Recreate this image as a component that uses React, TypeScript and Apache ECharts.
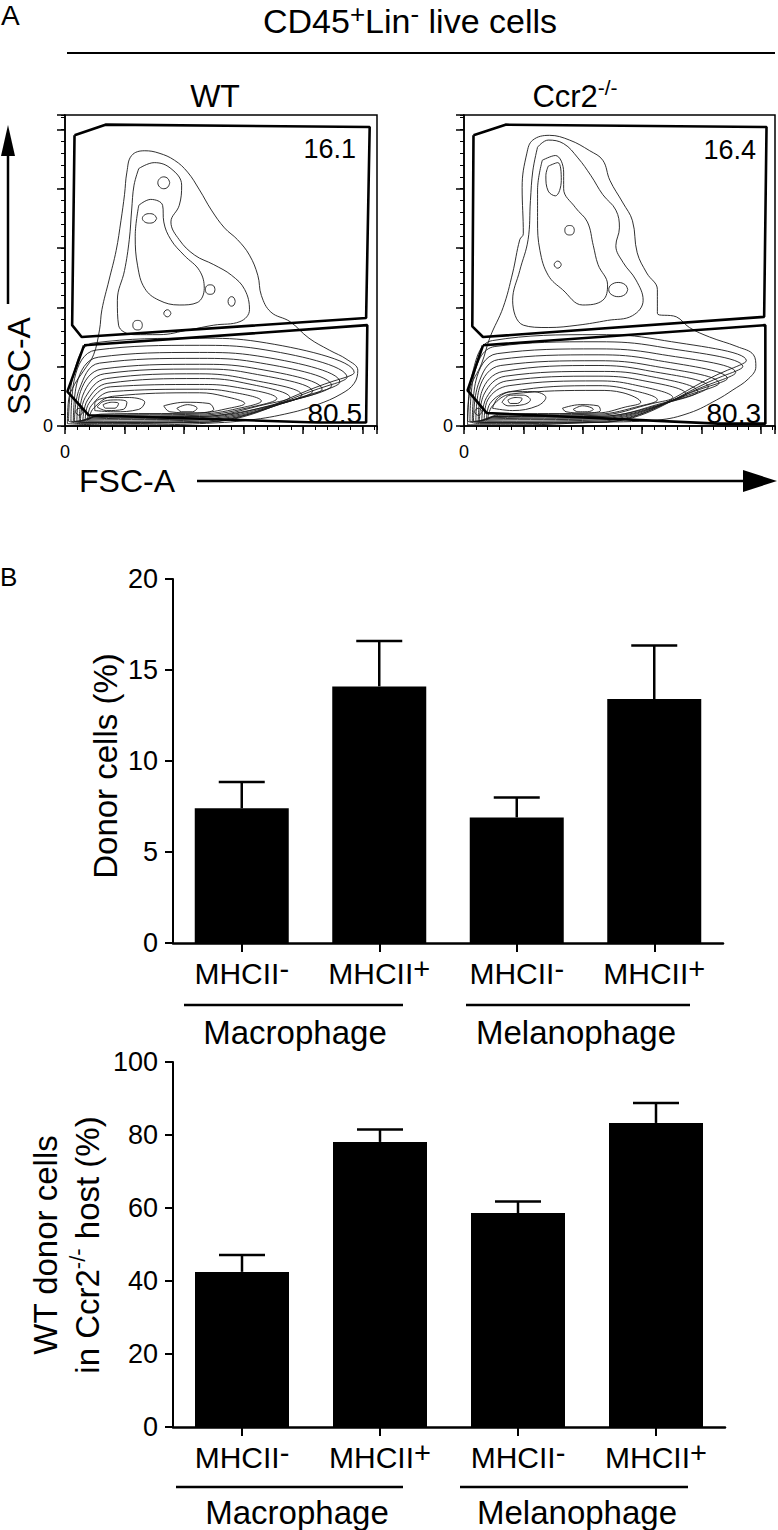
import React, { useEffect, useRef } from "react";
import * as echarts from "echarts";

const FONT = '"Liberation Sans", Arial, Helvetica, sans-serif';

// ---------------- Panel A: FSC-A / SSC-A (thousands of channel units) ----------------
const flowMax = 262.144;
const flowMajorStep = 50;
const flowMinorStep = 10;

const wtUpperGate = [[8, 245], [34, 254], [256, 252], [253, 91], [14, 75], [6, 85], [8, 245]];
const wtLowerGate = [[16, 68], [254, 85], [253, 3], [212, 3], [20, 9], [2, 29], [16, 68]];
const koUpperGate = [[8, 245], [35, 254], [255, 252], [253, 92], [16, 75], [7, 84], [8, 245]];
const koLowerGate = [[16, 68], [254, 85], [254, 2], [214, 2], [19, 11], [3, 30], [16, 68]];

const wtGateFreq = ["16.1", "80.5"];
const koGateFreq = ["16.4", "80.3"];

const wtContours = [
  // outer envelope
  [[2, 2], [3, 22], [8, 35], [16, 47], [24, 60], [29, 81], [31, 98], [37, 123], [43, 148], [47, 173], [50, 195], [52, 214], [56, 228], [67, 232], [79, 230], [92, 224], [103, 214], [113, 199], [123, 182], [134, 167], [145, 157], [155, 144], [162, 127], [165, 110], [173, 96], [189, 88], [205, 74], [222, 64], [237, 56], [246, 47], [243, 36], [232, 27], [212, 18], [189, 11], [155, 5], [113, 2], [71, 1], [29, 1], [2, 2]],
  // upper population
  [[62, 217], [75, 222], [89, 217], [98, 203], [96, 186], [89, 172], [96, 157], [109, 144], [125, 136], [140, 127], [151, 115], [155, 98], [147, 88], [125, 85], [104, 81], [79, 77], [58, 77], [45, 85], [44, 106], [50, 131], [54, 157], [56, 182], [58, 203], [62, 217]],
  [[62, 186], [72, 191], [82, 186], [83, 172], [89, 157], [100, 144], [113, 131], [117, 116], [111, 104], [96, 102], [79, 106], [67, 116], [61, 135], [59, 160], [62, 186]],
  [[88, 205], [86.5, 208.5], [83, 210], [79.5, 208.5], [78, 205], [79.5, 201.5], [83, 200], [86.5, 201.5], [88, 205]],
  [[77, 175], [75, 178], [71, 179], [67, 178], [65, 175], [67, 172], [71, 171], [75, 172], [77, 175]],
  [[89, 95], [88, 97], [86, 98], [84, 97], [83, 95], [84, 93], [86, 92], [88, 93], [89, 95]],
  [[143, 105], [142, 108], [140, 109], [138, 108], [137, 105], [138, 102], [140, 101], [142, 102], [143, 105]],
  [[65, 85], [64, 88], [61, 89], [58, 88], [57, 85], [58, 82], [61, 81], [64, 82], [65, 85]],
  [[126, 115], [125, 118], [122, 119], [119, 118], [118, 115], [119, 112], [122, 111], [125, 112], [126, 115]],
  // lower population (nested levels)
  [[3, 4], [7, 43], [24, 70], [113, 74], [163, 71], [243, 45], [226, 38], [113, 3], [13, 2], [3, 4]],
  [[5, 4], [8, 40], [26, 64], [113, 68], [163, 65], [237, 41], [221, 34], [113, 3], [15, 3], [5, 4]],
  [[7, 4], [10, 36], [28, 58], [113, 62], [162, 59], [231, 37], [214, 29], [113, 4], [17, 3], [7, 4]],
  [[8, 4], [12, 31], [29, 53], [113, 57], [159, 54], [224, 34], [207, 26], [113, 5], [19, 4], [8, 4]],
  [[10, 4], [13, 29], [31, 48], [113, 52], [157, 49], [216, 31], [200, 24], [113, 6], [20, 5], [10, 4]],
  [[12, 4], [15, 26], [33, 44], [113, 48], [153, 45], [208, 29], [191, 22], [113, 7], [22, 6], [12, 4]],
  [[13, 4], [17, 24], [35, 40], [113, 44], [151, 40], [199, 26], [182, 19], [113, 8], [24, 7], [13, 4]],
  [[15, 4], [19, 22], [36, 36], [113, 40], [147, 37], [189, 24], [172, 19], [113, 8], [25, 8], [15, 4]],
  [[17, 5], [20, 19], [38, 33], [113, 35], [142, 33], [178, 23], [161, 17], [113, 9], [27, 8], [17, 5]],
  [[19, 5], [22, 17], [39, 29], [113, 31], [138, 29], [165, 21], [151, 16], [113, 10], [29, 9], [19, 5]],
  [[20, 6], [24, 15], [40, 25], [113, 28], [134, 25], [151, 19], [138, 15], [113, 11], [30, 10], [20, 6]],
  [[25, 13], [25, 19], [37, 24], [54, 24], [67, 20], [62, 14], [41, 12], [25, 13]],
  [[83, 17], [100, 20], [121, 19], [125, 14], [109, 11], [88, 12], [83, 17]],
  [[27, 16], [33, 21], [44, 22], [52, 20], [49, 14], [35, 13], [27, 16]],
  [[32, 18], [39, 20], [45, 19], [42, 15], [34, 15], [32, 18]],
  [[94, 15], [103, 18], [111, 15], [107, 12], [98, 12], [94, 15]],
  [[15, 12], [14, 14], [12, 15], [10, 14], [9, 12], [10, 10], [12, 9], [14, 10], [15, 12]],
];

const koContours = [
  // outer envelope
  [[3, 1], [5, 30], [15, 53], [22, 75], [33, 100], [41, 129], [47, 157], [50, 162], [49, 201], [53, 230], [58, 241], [72, 245], [89, 241], [106, 232], [117, 224], [123, 207], [134, 188], [142, 173], [146, 146], [154, 129], [163, 115], [163, 95], [179, 92], [190, 83], [207, 75], [230, 67], [244, 60], [246, 50], [240, 40], [226, 30], [213, 22], [190, 11], [163, 5], [106, 3], [50, 1], [3, 1]],
  // upper population
  [[62, 235], [71, 241], [84, 238], [96, 226], [107, 211], [117, 195], [128, 182], [131, 167], [128, 152], [134, 138], [145, 123], [151, 106], [142, 93], [121, 89], [96, 85], [71, 83], [50, 85], [41, 106], [47, 131], [54, 157], [56, 190], [58, 215], [62, 235]],
  [[66, 224], [77, 228], [84, 214], [84, 200], [94, 184], [104, 172], [109, 152], [113, 136], [121, 119], [117, 106], [100, 102], [83, 115], [71, 127], [64, 148], [62, 173], [62, 199], [66, 224]],
  [[71, 219], [79, 222], [82, 207], [77, 194], [71, 198], [69, 211], [71, 219]],
  [[93, 165], [92, 168], [89, 169], [86, 168], [85, 165], [86, 162], [89, 161], [92, 162], [93, 165]],
  [[82, 136], [81, 138], [79, 139], [77, 138], [76, 136], [77, 134], [79, 133], [81, 134], [82, 136]],
  [[138, 115], [136, 119], [130, 121], [124, 119], [122, 115], [124, 111], [130, 109], [136, 111], [138, 115]],
  // lower population (nested levels)
  [[3, 4], [7, 44], [24, 72], [113, 77], [163, 73], [238, 55], [222, 47], [113, 3], [13, 2], [3, 4]],
  [[5, 4], [8, 41], [26, 67], [113, 71], [163, 67], [235, 50], [218, 42], [113, 3], [15, 3], [5, 4]],
  [[7, 4], [10, 38], [28, 61], [113, 65], [162, 61], [229, 45], [212, 37], [113, 4], [17, 3], [7, 4]],
  [[8, 4], [12, 35], [29, 56], [113, 60], [159, 56], [222, 40], [205, 33], [113, 5], [19, 4], [8, 4]],
  [[10, 4], [13, 32], [31, 51], [113, 55], [157, 51], [215, 36], [198, 29], [113, 6], [20, 5], [10, 4]],
  [[12, 4], [15, 29], [33, 46], [113, 51], [153, 47], [206, 33], [189, 25], [113, 7], [22, 6], [12, 4]],
  [[13, 4], [17, 27], [35, 42], [113, 46], [151, 43], [197, 29], [180, 22], [113, 8], [24, 7], [13, 4]],
  [[15, 4], [19, 24], [36, 38], [113, 42], [147, 39], [187, 27], [170, 20], [113, 8], [25, 8], [15, 4]],
  [[17, 5], [20, 22], [38, 34], [113, 38], [142, 35], [176, 24], [159, 19], [113, 9], [27, 8], [17, 5]],
  [[19, 5], [22, 19], [39, 29], [113, 34], [138, 31], [163, 22], [149, 17], [113, 10], [29, 9], [19, 5]],
  [[20, 6], [24, 17], [40, 27], [113, 30], [134, 28], [149, 20], [136, 16], [113, 11], [30, 10], [20, 6]],
  [[24, 15], [29, 24], [41, 29], [58, 29], [69, 24], [62, 17], [41, 13], [24, 15]],
  [[32, 20], [39, 26], [50, 26], [56, 22], [50, 18], [37, 17], [32, 20]],
  [[37, 22], [43, 24], [49, 23], [45, 19], [39, 19], [37, 22]],
  [[83, 15], [98, 18], [113, 17], [115, 13], [100, 11], [86, 12], [83, 15]],
  [[92, 14], [100, 17], [109, 14], [104, 12], [96, 12], [92, 14]],
  [[15, 12], [14, 14], [12, 15], [10, 14], [9, 12], [10, 10], [12, 9], [14, 10], [15, 12]],
];

// ---------------- Panel B: bar charts ----------------
const cellTypes = ["MHCII-", "MHCII+", "MHCII-", "MHCII+"];
const cellGroups = ["Macrophage", "Melanophage"];

const donorTicks = { min: 0, max: 20, step: 5 };
const donorMean = [7.4, 14.1, 6.9, 13.4];
const donorSem = [1.45, 2.5, 1.1, 2.95];

const wtDonorTicks = { min: 0, max: 100, step: 20 };
const wtDonorMean = [42.5, 78.1, 58.6, 83.3];
const wtDonorSem = [4.6, 3.4, 3.2, 5.5];

const App: React.FC = () => {
  const ref = useRef<HTMLDivElement>(null);

  useEffect(() => {
    if (!ref.current) return;
    const chart = echarts.init(ref.current, undefined, { renderer: "svg" });

    const flowAxis = (gridIndex: number, major: boolean, dim: "x" | "y", margin: number) => ({
      type: "value",
      gridIndex,
      min: 0,
      max: flowMax,
      interval: major ? flowMajorStep : flowMinorStep,
      position: dim === "x" ? "bottom" : "left",
      axisLine: { show: major, onZero: false, lineStyle: { color: "#000", width: 1.5 } },
      axisTick: { show: true, length: major ? 8 : 4, lineStyle: { color: "#000", width: major ? 1.5 : 1 } },
      axisLabel: major
        ? {
            show: true,
            formatter: (v: number) => (v === 0 ? "0" : ""),
            fontSize: 18,
            color: "#000",
            fontFamily: FONT,
            margin,
          }
        : { show: false },
      splitLine: { show: false },
    });

    const supRich = {
      m: { fontSize: 30, lineHeight: 38, color: "#000", fontFamily: FONT },
      s: { fontSize: 29, lineHeight: 20, verticalAlign: "top", color: "#000", fontFamily: FONT },
    };

    const catAxis = (gridIndex: number) => ({
      type: "category",
      gridIndex,
      data: cellTypes,
      axisLine: { show: true, lineStyle: { color: "#000", width: 2.5 } },
      axisTick: { show: true, alignWithLabel: true, length: 9, lineStyle: { color: "#000", width: 2 } },
      axisLabel: {
        interval: 0,
        margin: 11,
        fontSize: 30,
        fontFamily: FONT,
        color: "#000",
        formatter: (v: string) => `{m|${v.slice(0, -1)}}{s|${v.slice(-1)}}`,
        rich: supRich,
      },
    });

    const valAxis = (gridIndex: number, t: { min: number; max: number; step: number }) => ({
      type: "value",
      gridIndex,
      min: t.min,
      max: t.max,
      interval: t.step,
      axisLine: { show: true, lineStyle: { color: "#000", width: 2 } },
      axisTick: { show: true, length: 8, lineStyle: { color: "#000", width: 2 } },
      axisLabel: { fontSize: 27, color: "#000", fontFamily: FONT, margin: 15 },
      splitLine: { show: false },
    });

    const contourSeries = (contours: number[][][], xi: number, yi: number) =>
      contours.map((c) => ({
        type: "line",
        xAxisIndex: xi,
        yAxisIndex: yi,
        data: c,
        smooth: 0.4,
        symbol: "none",
        silent: true,
        lineStyle: { color: "#1a1a1a", width: 0.9 },
        z: 2,
      }));

    const gateSeries = (g: number[][], xi: number, yi: number) => ({
      type: "line",
      xAxisIndex: xi,
      yAxisIndex: yi,
      data: g,
      smooth: false,
      symbol: "none",
      silent: true,
      lineStyle: { color: "#000", width: 2.6 },
      z: 3,
    });

    const barSeries = (vals: number[], xi: number, yi: number) => ({
      type: "bar",
      xAxisIndex: xi,
      yAxisIndex: yi,
      data: vals,
      barWidth: 94,
      itemStyle: { color: "#000" },
      silent: true,
    });

    const errSeries = (means: number[], sems: number[], xi: number, yi: number) => ({
      type: "custom",
      xAxisIndex: xi,
      yAxisIndex: yi,
      data: means.map((m, i) => [i, m, sems[i]]),
      silent: true,
      z: 4,
      renderItem: (_p: any, api: any) => {
        const i = api.value(0);
        const m = api.value(1);
        const e = api.value(2);
        const base = api.coord([i, m]);
        const top = api.coord([i, m + e]);
        const hw = 23;
        return {
          type: "group",
          children: [
            { type: "line", shape: { x1: base[0], y1: base[1], x2: top[0], y2: top[1] }, style: { stroke: "#000", lineWidth: 2.5 } },
            { type: "line", shape: { x1: top[0] - hw, y1: top[1], x2: top[0] + hw, y2: top[1] }, style: { stroke: "#000", lineWidth: 2.5 } },
          ],
        };
      },
    });

    const txt = (text: string, x: number, y: number, size: number, align = "center", extra: any = {}) => ({
      type: "text",
      x,
      y,
      silent: true,
      ...extra,
      style: { text, fontSize: size, fontFamily: FONT, fill: "#000", align, verticalAlign: "middle", ...(extra.style || {}) },
    });

    const hline = (x1: number, x2: number, y: number, w = 2.5) => ({
      type: "line",
      silent: true,
      shape: { x1, y1: y, x2, y2: y },
      style: { stroke: "#000", lineWidth: w },
    });

    const richTitle = {
      a: { fontSize: 34, lineHeight: 40, fill: "#000", fontFamily: FONT },
      s: { fontSize: 26, lineHeight: 20, verticalAlign: "top", fill: "#000", fontFamily: FONT },
      s2: { fontSize: 21, lineHeight: 24, verticalAlign: "top", fill: "#000", fontFamily: FONT },
      b: { fontSize: 31, lineHeight: 38, fill: "#000", fontFamily: FONT },
    };

    const option: any = {
      animation: false,
      backgroundColor: "#fff",
      grid: [
        { left: 65, top: 115, width: 312, height: 311, show: true, borderColor: "#000", borderWidth: 1.5, backgroundColor: "transparent" },
        { left: 464, top: 115, width: 312, height: 311, show: true, borderColor: "#000", borderWidth: 1.5, backgroundColor: "transparent" },
        { left: 173, top: 579, width: 550, height: 364 },
        { left: 173, top: 1062, width: 552, height: 365 },
      ],
      xAxis: [
        flowAxis(0, true, "x", 17),
        flowAxis(0, false, "x", 17),
        flowAxis(1, true, "x", 17),
        flowAxis(1, false, "x", 17),
        catAxis(2),
        catAxis(3),
      ],
      yAxis: [
        flowAxis(0, true, "y", 12),
        flowAxis(0, false, "y", 12),
        flowAxis(1, true, "y", 11),
        flowAxis(1, false, "y", 11),
        valAxis(2, donorTicks),
        valAxis(3, wtDonorTicks),
      ],
      series: [
        ...contourSeries(wtContours, 0, 0),
        gateSeries(wtUpperGate, 0, 0),
        gateSeries(wtLowerGate, 0, 0),
        ...contourSeries(koContours, 2, 2),
        gateSeries(koUpperGate, 2, 2),
        gateSeries(koLowerGate, 2, 2),
        barSeries(donorMean, 4, 4),
        errSeries(donorMean, donorSem, 4, 4),
        barSeries(wtDonorMean, 5, 5),
        errSeries(wtDonorMean, wtDonorSem, 5, 5),
      ],
      graphic: [
        // Panel A
        txt("A", 1, 15, 28, "left"),
        {
          type: "text",
          x: 410,
          y: 21,
          silent: true,
          style: {
            text: "{a|CD45}{s|+}{a|Lin}{s|-}{a| live cells}",
            rich: richTitle,
            align: "center",
            verticalAlign: "middle",
          },
        },
        hline(67, 775, 53, 2),
        txt("WT", 215, 96, 32),
        {
          type: "text",
          x: 575,
          y: 96,
          silent: true,
          style: { text: "{b|Ccr2}{s2|-/-}", rich: richTitle, align: "center", verticalAlign: "middle" },
        },
        txt(wtGateFreq[0], 356, 149, 27, "right"),
        txt(wtGateFreq[1], 362, 413, 28, "right"),
        txt(koGateFreq[0], 756, 150, 27, "right"),
        txt(koGateFreq[1], 761, 413, 28, "right"),
        txt("SSC-A", 19, 366, 32, "center", { rotation: Math.PI / 2 }),
        { type: "line", silent: true, shape: { x1: 8, y1: 304, x2: 8, y2: 150 }, style: { stroke: "#000", lineWidth: 2.5 } },
        { type: "polygon", silent: true, shape: { points: [[1, 156], [8, 125], [15, 156]] }, style: { fill: "#000" } },
        txt("FSC-A", 127, 481, 32),
        { type: "line", silent: true, shape: { x1: 197, y1: 481, x2: 748, y2: 481 }, style: { stroke: "#000", lineWidth: 2.5 } },
        { type: "polygon", silent: true, shape: { points: [[743, 470], [777, 481], [743, 492]] }, style: { fill: "#000" } },
        // Panel B
        txt("B", 0, 577, 26, "left"),
        txt("Donor cells (%)", 105, 766, 33, "center", { rotation: Math.PI / 2 }),
        hline(184, 403, 1005),
        hline(466, 690, 1005),
        txt(cellGroups[0], 295, 1032, 33),
        txt(cellGroups[1], 576, 1032, 33),
        {
          type: "text",
          x: 66,
          y: 1245,
          rotation: Math.PI / 2,
          silent: true,
          style: {
            text: "{a|WT donor cells}\n{a|in Ccr2}{s2|-/-}{a| host (%)}",
            rich: {
              a: { fontSize: 33, lineHeight: 42, fill: "#000", fontFamily: FONT },
              s2: { fontSize: 22, lineHeight: 30, verticalAlign: "top", fill: "#000", fontFamily: FONT },
            },
            align: "center",
            verticalAlign: "middle",
          },
        },
        hline(176, 403, 1487),
        hline(460, 688, 1487),
        txt(cellGroups[0], 297, 1512, 33),
        txt(cellGroups[1], 577, 1512, 33),
      ],
    };

    chart.setOption(option);
    return () => chart.dispose();
  }, []);

  return (
    <div
      ref={ref}
      style={{ position: "absolute", left: 0, top: 0, width: 778, height: 1530, background: "#fff" }}
    />
  );
};

export default App;
